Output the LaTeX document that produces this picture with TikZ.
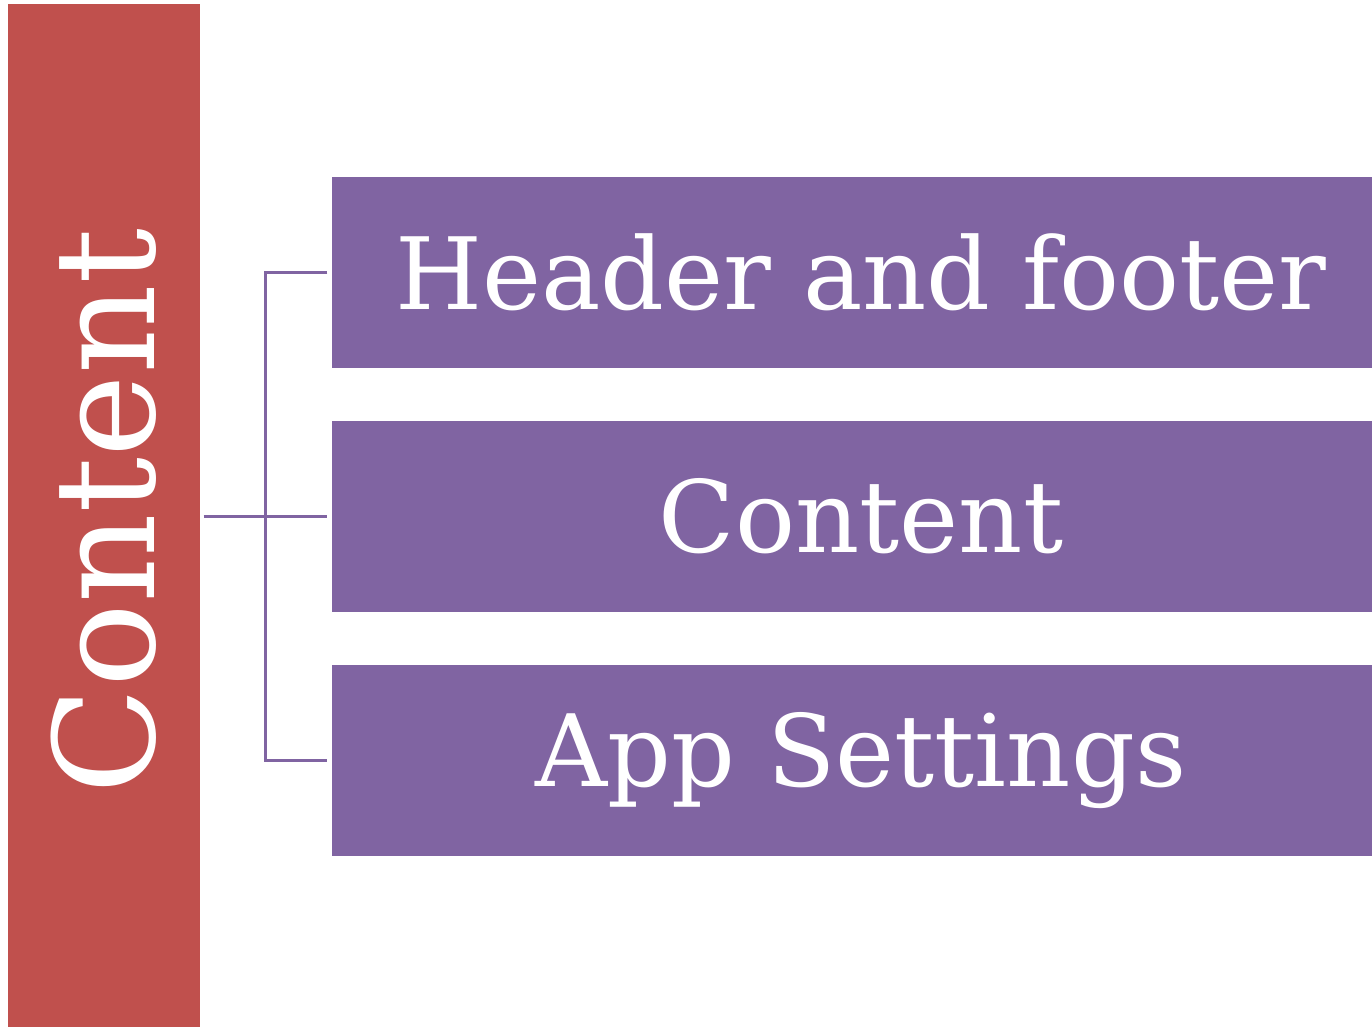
\documentclass[tikz,border=0pt]{standalone}
\usepackage{fontspec}
\setmainfont{DejaVu Serif}
\usepackage{tikz}
\definecolor{barred}{HTML}{C0504D}
\definecolor{boxpurple}{HTML}{8064A2}
\tikzset{
    itembox/.style={fill=boxpurple, text=white, minimum width=10.58cm, minimum height=1.91cm, inner sep=0pt, font=\fontsize{28.4}{34}\selectfont},
    link/.style={draw=boxpurple, line width=0.3mm}
}

\begin{document}
\begin{tikzpicture}
    \useasboundingbox (0,0) rectangle (13.72,-10.27);
    \clip (0,0) rectangle (13.72,-10.27);
    \node[fill=barred, minimum width=1.92cm, minimum height=10.23cm, inner sep=0pt] (main) at (1.04,-5.155) {};
    \node[text=white, rotate=90, font=\fontsize{39.7}{46}\selectfont] (maintext) at ([yshift=0.04cm]main.center) {Content};
    \node[itembox] (header) at (8.61,-2.725) {Header and footer};
    \node[itembox] (content) at (8.61,-5.165) {Content};
    \node[itembox] (settings) at (8.61,-7.605) {App Settings};
    % bracket between the bar and the three boxes
    \coordinate (fork) at (2.65,-5.165);
    \draw[link] ([xshift=0.03cm]main.east |- fork) -- ([xshift=-0.04cm]content.west);
    \draw[link] ([xshift=-0.04cm]header.west) -| (fork) |- ([xshift=-0.04cm]settings.west);
\end{tikzpicture}
\end{document}
